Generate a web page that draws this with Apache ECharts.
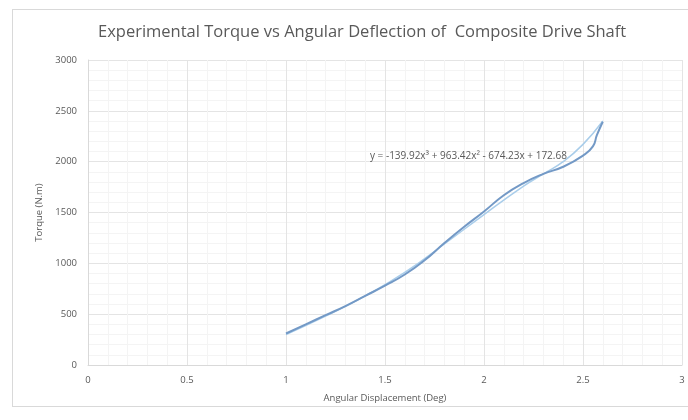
<!DOCTYPE html>
<html>
<head>
<meta charset="utf-8">
<script src="https://cdn.jsdelivr.net/npm/echarts@6/dist/echarts.min.js"></script>
<style>
    html, body { margin: 0; padding: 0; background: #ffffff; }
    #frame { position: absolute; left: 12px; top: 9px; width: 690px; height: 398px; border: 1px solid #d9d9d9; box-sizing: border-box; }
    #main { position: absolute; left: 0; top: 0; width: 688px; height: 420px; }
</style>
</head>
<body>
<div id="frame"></div>
<div id="main"></div>
<script>
    // measured data (angular displacement in deg, torque in N.m)
    const deflection = [1.0, 1.1, 1.2, 1.3, 1.4, 1.5, 1.6, 1.7, 1.8, 1.9, 2.0, 2.1, 2.2, 2.3, 2.4, 2.5, 2.55, 2.57, 2.6]
    const torque = [310, 400, 490, 580, 680, 780, 890, 1030, 1200, 1360, 1510, 1670, 1790, 1880, 1950, 2060, 2150, 2260, 2393]

    // poly trendline
    const trendX = [1.0, 1.2, 1.4, 1.6, 1.8, 2.0, 2.2, 2.3, 2.4, 2.5, 2.6]
    const trendY = [300, 480, 680, 910, 1190, 1480, 1760, 1880, 2000, 2170, 2400]

    const trendLabel = 'y = -139.92x³ + 963.42x² - 674.23x + 172.68'

    const gray = '#595959'
    const chart = echarts.init(document.getElementById('main'), null, { renderer: 'canvas' })

    chart.setOption({
        animation: false,
        textStyle: { fontFamily: 'Open Sans' },
        title: {
            text: 'Experimental Torque vs Angular Deflection of  Composite Drive Shaft',
            left: 93,
            top: 19,
            textStyle: { color: gray, fontSize: 16.5, fontWeight: 'normal', fontFamily: 'Open Sans' }
        },
        grid: { left: 88, right: 6, top: 60, bottom: 55 },
        xAxis: {
            type: 'value',
            min: 0,
            max: 3,
            interval: 0.5,
            name: 'Angular Displacement (Deg)',
            nameLocation: 'middle',
            nameGap: 28,
            nameTextStyle: { color: gray, fontSize: 9.5 },
            axisLabel: { color: gray, fontSize: 9.5, margin: 10 },
            axisLine: { lineStyle: { color: '#d9d9d9' } },
            axisTick: { show: false },
            splitLine: { show: true, lineStyle: { color: '#e4e4e4' } },
            minorTick: { show: false, splitNumber: 5 },
            minorSplitLine: { show: true, lineStyle: { color: '#f4f4f4' } }
        },
        yAxis: {
            type: 'value',
            min: 0,
            max: 3000,
            interval: 500,
            name: 'Torque (N.m)',
            nameLocation: 'middle',
            nameGap: 44,
            nameTextStyle: { color: gray, fontSize: 9.5 },
            axisLabel: { color: gray, fontSize: 9.5, margin: 11, formatter: v => String(v) },
            axisLine: { show: true, lineStyle: { color: '#d9d9d9' } },
            axisTick: { show: false },
            splitLine: { show: true, lineStyle: { color: '#e4e4e4' } },
            minorTick: { show: false, splitNumber: 5 },
            minorSplitLine: { show: true, lineStyle: { color: '#f4f4f4' } }
        },
        series: [
            {
                name: 'Poly. (Torque)',
                type: 'line',
                smooth: true,
                showSymbol: false,
                z: 1,
                lineStyle: { color: '#a9cdea', width: 1.5 },
                data: trendX.map((x, i) => [x, trendY[i]])
            },
            {
                name: 'Torque',
                type: 'line',
                smooth: true,
                showSymbol: false,
                z: 2,
                lineStyle: { color: '#7399c6', width: 2 },
                data: deflection.map((x, i) => [x, torque[i]])
            }
        ],
        graphic: [
            {
                type: 'text',
                left: 370,
                top: 151,
                z: 10,
                style: { text: trendLabel, fill: gray, fontSize: 10, fontFamily: 'Open Sans' }
            }
        ]
    })
</script>
</body>
</html>
